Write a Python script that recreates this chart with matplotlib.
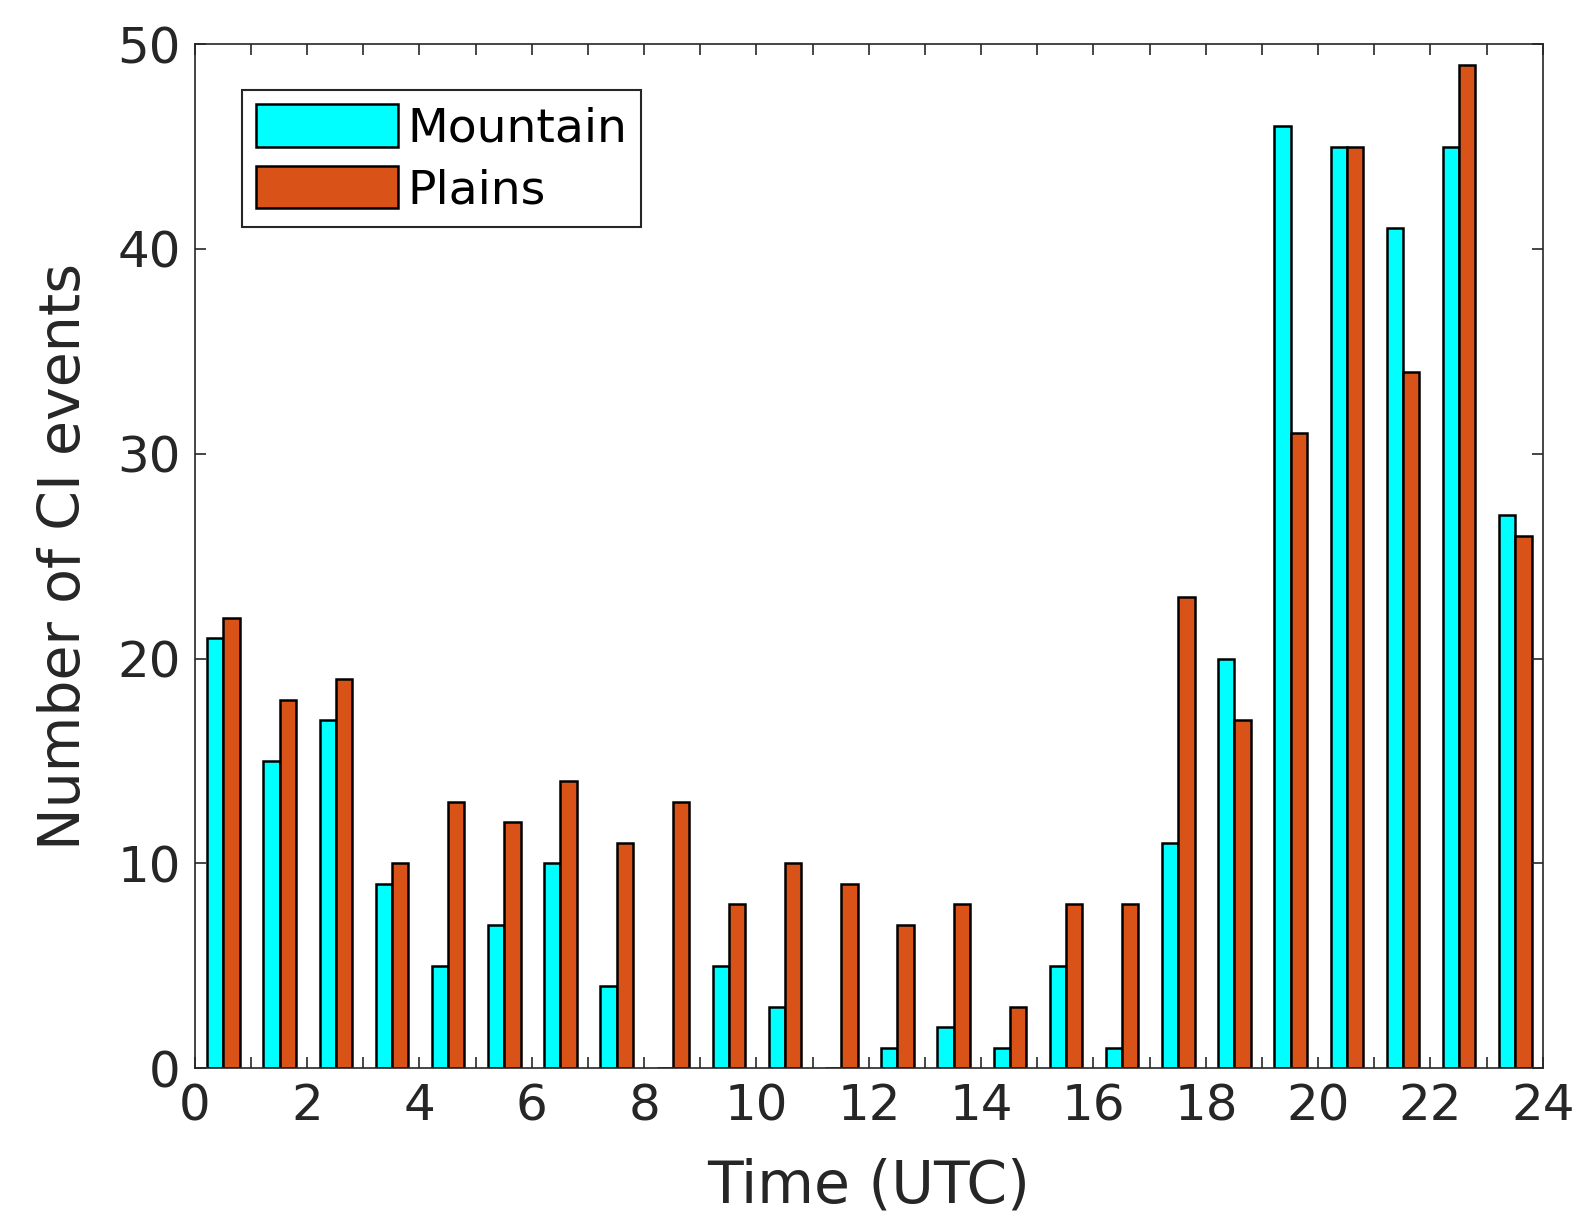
import matplotlib
matplotlib.use("Agg")
import matplotlib.pyplot as plt
import numpy as np

# hourly counts of CI events (bin start hour)
hours = np.arange(24)
mountain = [21, 15, 17, 9, 5, 7, 10, 4, 0, 5, 3, 0, 1, 2, 1, 5, 1, 11, 20, 46, 45, 41, 45, 27]
plains = [22, 18, 19, 10, 13, 12, 14, 11, 13, 8, 10, 9, 7, 8, 3, 8, 8, 23, 17, 31, 45, 34, 49, 26]
xtick_vals = list(range(0, 25, 2))

plt.rcParams['font.family'] = ['DejaVu Sans']
fig = plt.figure(figsize=(15.84, 12.25), dpi=100)
ax = fig.add_axes([0.123, 0.128, 0.851, 0.836])

w = 0.29
ax.bar(hours + 0.365, mountain, width=w, color='#00FFFF', edgecolor='black',
       linewidth=1.8, label='Mountain')
ax.bar(hours + 0.655, plains, width=w, color='#D95319', edgecolor='black',
       linewidth=1.8, label='Plains')

ax.set_xlim(0, 24)
ax.set_ylim(0, 50)
ax.set_xticks(range(0, 25))
ax.set_xticklabels([str(h) if h in xtick_vals else '' for h in range(0, 25)])
ax.set_yticks(range(0, 51, 10))
ax.tick_params(direction='in', length=8, width=1.2, top=True, right=True,
               labelsize=36, colors='#262626', pad=10)
for s in ax.spines.values():
    s.set_color('#262626')
    s.set_linewidth(1.2)

ax.set_xlabel('Time (UTC)', fontsize=42, color='#262626', labelpad=20)
ax.set_ylabel('Number of CI events', fontsize=41, color='#262626', labelpad=18)

leg = ax.legend(loc='upper left', bbox_to_anchor=(0.035, 0.955), fontsize=34,
                borderaxespad=0, handlelength=3.0, handleheight=1.0,
                handletextpad=0.2, labelspacing=0.3, borderpad=0.3,
                fancybox=False, edgecolor='#262626', framealpha=1)
leg.get_frame().set_linewidth(1.5)

fig.savefig('out.png', dpi=100)
